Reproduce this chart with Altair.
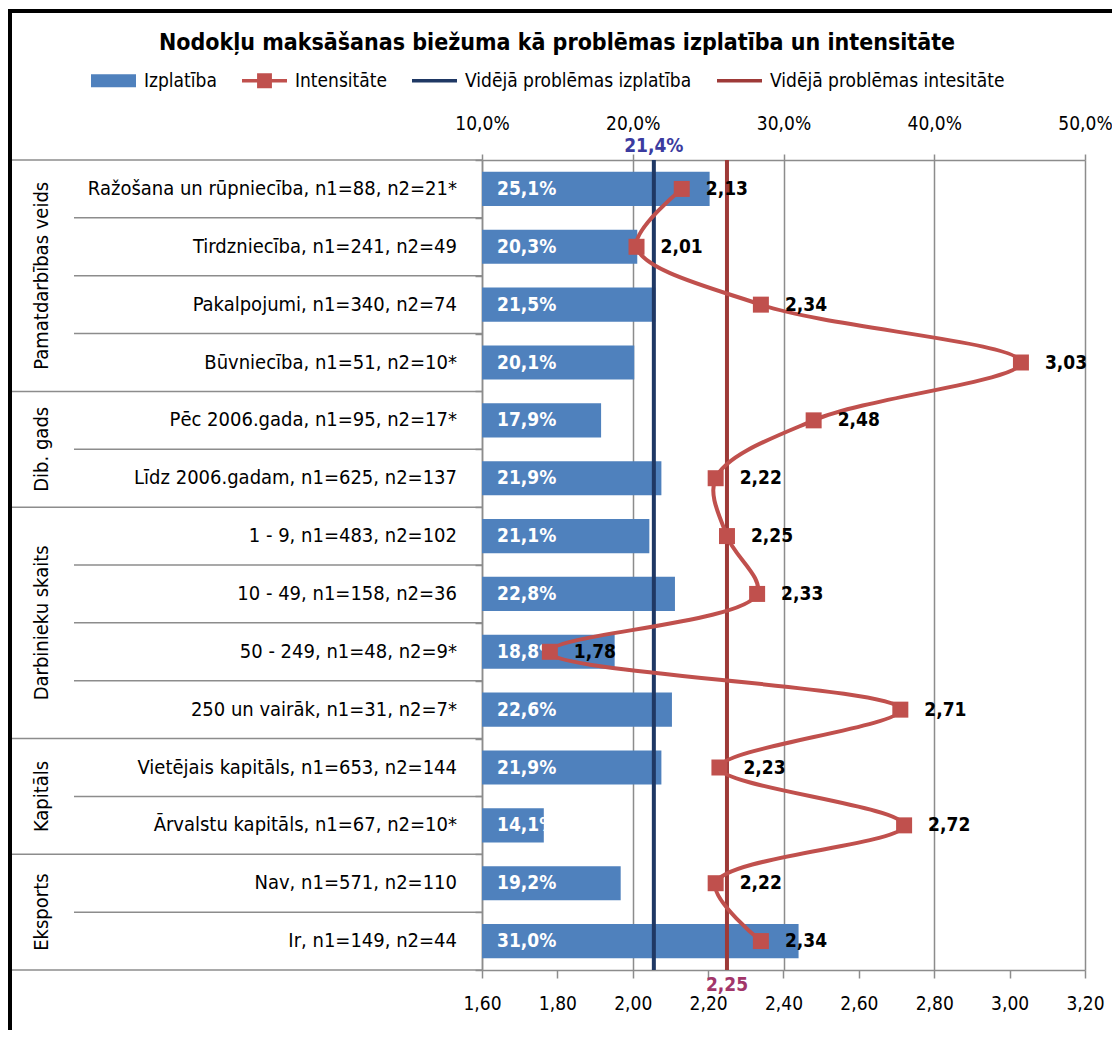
import altair as alt
import pandas as pd

# ---------------- data ----------------
categories = [
    "Ražošana un rūpniecība, n1=88, n2=21*",
    "Tirdzniecība, n1=241, n2=49",
    "Pakalpojumi, n1=340, n2=74",
    "Būvniecība, n1=51, n2=10*",
    "Pēc 2006.gada, n1=95, n2=17*",
    "Līdz 2006.gadam, n1=625, n2=137",
    "1 - 9, n1=483, n2=102",
    "10 - 49, n1=158, n2=36",
    "50 - 249, n1=48, n2=9*",
    "250 un vairāk, n1=31, n2=7*",
    "Vietējais kapitāls, n1=653, n2=144",
    "Ārvalstu kapitāls, n1=67, n2=10*",
    "Nav, n1=571, n2=110",
    "Ir, n1=149, n2=44",
]
groups = (["Pamatdarbības veids"] * 4 + ["Dib. gads"] * 2 + ["Darbinieku skaits"] * 4
          + ["Kapitāls"] * 2 + ["Eksports"] * 2)
izplatiba = [25.1, 20.3, 21.5, 20.1, 17.9, 21.9, 21.1, 22.8, 18.8, 22.6, 21.9, 14.1, 19.2, 31.0]
intensitate = [2.13, 2.01, 2.34, 3.03, 2.48, 2.22, 2.25, 2.33, 1.78, 2.71, 2.23, 2.72, 2.22, 2.34]
mean_izplatiba = 21.4
mean_intensitate = 2.25
pct_ticks = [10, 20, 30, 40, 50]
int_ticks = [1.6, 1.8, 2.0, 2.2, 2.4, 2.6, 2.8, 3.0, 3.2]
legend_names = ["Izplatība", "Intensitāte", "Vidējā problēmas izplatība", "Vidējā problēmas intesitāte"]
title_text = "Nodokļu maksāšanas biežuma kā problēmas izplatība un intensitāte"

# ---------------- styles ----------------
FONT = "Liberation Sans Narrow, DejaVu Sans Condensed, Arial Narrow, Liberation Sans, sans-serif"
BAR = "#4f81bd"
LINE = "#c0504d"
MEAN_BLUE = "#1f3864"
MEAN_RED = "#9e3a38"
LBL_BLUE = "#3b3b9f"
LBL_RED = "#a2366a"
GRID = "#8c8c8c"
legend_colors = [BAR, LINE, MEAN_BLUE, MEAN_RED]
legend_shapes = [
    "M-1,-0.29H1V0.29H-1Z",
    "M-1,-0.08H-0.33V-0.33H0.33V-0.08H1V0.08H0.33V0.33H-0.33V0.08H-1Z",
    "M-1,-0.08H1V0.08H-1Z",
    "M-1,-0.08H1V0.08H-1Z",
]

n = len(categories)
df = pd.DataFrame({
    "row": list(range(n)),
    "cat": categories,
    "grp": groups,
    "izpl": izplatiba,
    "inten": intensitate,
})
df["pos"] = df["row"] + 0.5
df["y_lo"] = df["pos"] - 0.295
df["y_hi"] = df["pos"] + 0.295
df["izpl_lbl"] = df["izpl"].map(lambda v: f"{v:.1f}".replace(".", ",") + "%")
df["int_lbl"] = df["inten"].map(lambda v: f"{v:.2f}".replace(".", ","))

grp_df = df.groupby("grp", sort=False)["pos"].mean().reset_index()

bounds = []
for b in range(n + 1):
    outer = b == 0 or b == n or groups[b - 1] != groups[b]
    bounds.append({"b": b, "outer": outer})
sep_df = pd.DataFrame(bounds)

mean_df = pd.DataFrame({
    "mi": [mean_izplatiba],
    "mt": [mean_intensitate],
    "mi_lbl": [f"{mean_izplatiba:.1f}".replace(".", ",") + "%"],
    "mt_lbl": [f"{mean_intensitate:.2f}".replace(".", ",")],
})
legend_df = pd.DataFrame({"series": legend_names})

# ---------------- scales / axes ----------------
W, H = 603, 810
yscale = alt.Scale(domain=[0, n], reverse=True, nice=False, zero=False)
yaxis = alt.Axis(values=list(range(n + 1)), labels=False, ticks=True, tickSize=7,
                 tickColor=GRID, tickWidth=1.5, domainColor=GRID, domainWidth=1.5,
                 grid=False, title=None)
pct_scale = alt.Scale(domain=[10, 50], nice=False, zero=False)
int_scale = alt.Scale(domain=[1.6, 3.2], nice=False, zero=False)

top_axis = alt.Axis(orient="top", values=pct_ticks,
                    labelExpr="replace(format(datum.value, '.1f'), '.', ',') + '%'",
                    grid=True, gridColor=GRID, gridWidth=1.5,
                    domainColor=GRID, domainWidth=1.5, tickColor=GRID, tickWidth=1.5,
                    tickSize=6, labelFont=FONT, labelFontSize=19, labelColor="black",
                    labelPadding=21, labelFlush=False, labelOverlap=False, title=None)
bottom_axis = alt.Axis(orient="bottom", values=int_ticks,
                       labelExpr="replace(format(datum.value, '.2f'), '.', ',')",
                       grid=False, domainColor=GRID, domainWidth=1.5, tickColor=GRID,
                       tickWidth=1.5, tickSize=8, labelFont=FONT, labelFontSize=19,
                       labelColor="black", labelPadding=16, labelFlush=False,
                       labelOverlap=False, title=None)


def Y(field):
    return alt.Y(field, type="quantitative", scale=yscale, axis=yaxis)


# ---------------- layers ----------------
sep_outer = alt.Chart(sep_df).transform_filter("datum.outer").mark_rule(
    color=GRID, strokeWidth=1.5).encode(x=alt.value(-472), x2=alt.value(0), y=Y("b"))
sep_inner = alt.Chart(sep_df).transform_filter("!datum.outer").mark_rule(
    color=GRID, strokeWidth=1.5).encode(x=alt.value(-408), x2=alt.value(0), y=Y("b"))

grp_text = alt.Chart(grp_df).mark_text(
    angle=270, font=FONT, fontSize=20, color="black", align="center", baseline="middle"
).encode(x=alt.value(-440), y=Y("pos"), text="grp:N")

cat_text = alt.Chart(df).mark_text(
    font=FONT, fontSize=20, color="black", align="right", baseline="middle"
).encode(x=alt.value(-25), y=Y("pos"), text="cat:N")

bars = alt.Chart(df).mark_bar(color=BAR).encode(
    x=alt.X("izpl:Q", scale=pct_scale, axis=top_axis),
    x2=alt.X2(datum=10),
    y=Y("y_lo"), y2="y_hi")

bar_text = alt.Chart(df).mark_text(
    font=FONT, fontSize=19, fontWeight="bold", color="white", align="left",
    baseline="middle", dx=15
).encode(x=alt.X(datum=10, type="quantitative", scale=pct_scale, axis=None),
         y=Y("pos"), text="izpl_lbl:N")

mean_i_rule = alt.Chart(mean_df).mark_rule(color=MEAN_BLUE, strokeWidth=4).encode(
    x=alt.X("mi:Q", scale=pct_scale, axis=None))
mean_t_rule = alt.Chart(mean_df).mark_rule(color=MEAN_RED, strokeWidth=4).encode(
    x=alt.X("mt:Q", scale=int_scale, axis=None))
mean_i_text = alt.Chart(mean_df).mark_text(
    font=FONT, fontSize=19, fontWeight="bold", color=LBL_BLUE, align="center",
    baseline="middle").encode(x=alt.X("mi:Q", scale=pct_scale, axis=None),
                              y=alt.value(-14), text="mi_lbl:N")
mean_t_text = alt.Chart(mean_df).mark_text(
    font=FONT, fontSize=19, fontWeight="bold", color=LBL_RED, align="center",
    baseline="middle").encode(x=alt.X("mt:Q", scale=int_scale, axis=None),
                              y=alt.value(825), text="mt_lbl:N")

int_line = alt.Chart(df).mark_line(color=LINE, strokeWidth=4, interpolate="catmull-rom").encode(
    x=alt.X("inten:Q", scale=int_scale, axis=bottom_axis),
    y=Y("pos"), order="row:Q")
int_pts = alt.Chart(df).mark_square(color=LINE, size=256, opacity=1).encode(
    x=alt.X("inten:Q", scale=int_scale, axis=None), y=Y("pos"))
int_text = alt.Chart(df).mark_text(
    font=FONT, fontSize=19, fontWeight="bold", color="black", align="left",
    baseline="middle", dx=24).encode(
    x=alt.X("inten:Q", scale=int_scale, axis=None), y=Y("pos"), text="int_lbl:N")

border_top = alt.Chart(mean_df).mark_rule(color="black", strokeWidth=4).encode(
    x=alt.value(-474), x2=alt.value(640), y=alt.value(-149))
border_left = alt.Chart(mean_df).mark_rule(color="black", strokeWidth=4).encode(
    x=alt.value(-472), y=alt.value(-151), y2=alt.value(890))

leg = alt.Legend(title=None, orient="none", legendX=-391, legendY=-102,
                 direction="horizontal", symbolSize=2025, symbolStrokeWidth=0,
                 symbolOpacity=1, labelFont=FONT, labelFontSize=19, labelColor="black",
                 labelOffset=8, columnPadding=25, labelLimit=0, padding=0)
# legend-only layer: its points sit outside the (clipped) plot, only the legend shows
legend_layer = alt.Chart(legend_df).mark_point(filled=True, clip=True).encode(
    x=alt.X(datum=5, type="quantitative", scale=alt.Scale(domain=[0, 1]), axis=None),
    color=alt.Color("series:N", scale=alt.Scale(domain=legend_names, range=legend_colors), legend=leg),
    shape=alt.Shape("series:N", scale=alt.Scale(domain=legend_names, range=legend_shapes), legend=leg),
)

chart = alt.layer(
    sep_outer, sep_inner, grp_text, cat_text,
    bars, bar_text, mean_i_rule, mean_t_rule, int_line, int_pts, int_text,
    mean_i_text, mean_t_text, border_top, border_left, legend_layer,
).resolve_scale(x="independent").properties(
    width=W, height=H,
    autosize=alt.AutoSizeParams(type="none"),
    padding={"left": 474, "top": 152, "right": 27, "bottom": 60},
    title=alt.TitleParams(title_text, font=FONT, fontSize=23, fontWeight="bold",
                          color="black", anchor="middle", frame="bounds", offset=-48,
                          dx=-8),
    background="white",
).configure_view(stroke=None)

chart.save("out.html", embed_options={"renderer": "svg", "actions": False})
